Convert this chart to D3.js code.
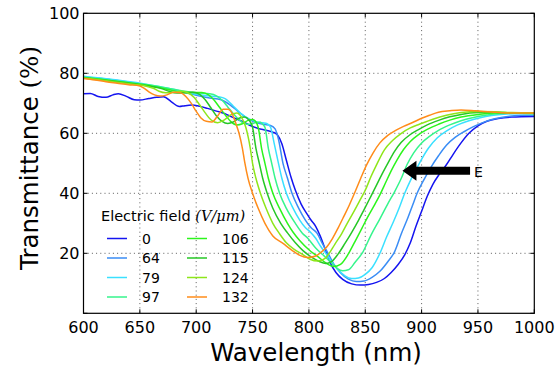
<!DOCTYPE html>
<html><head><meta charset="utf-8">
<script src="https://cdn.jsdelivr.net/npm/d3@7"></script>
<style>body{margin:0;background:#fff}svg{display:block}</style>
</head><body><svg id="c" width="560" height="366"></svg>
<script>
const fields = ["0","64","79","97","106","115","124","132"];
const colors = ["#1414f0","#3a8df5","#3ae0ff","#36f58c","#2cf51c","#26c726","#8ee61a","#ff8c1a"];
const xTicks = [600,650,700,750,800,850,900,950,1000];
const yTicks = [20,40,60,80,100];

const s0 = [[600,73.2],[606,73.3],[613,72.3],[620,72],[626,72.8],[631,73.2],[638,72.3],[645,71.2],[650,71.1],[658,71.6],[665,72],[671,72.2],[678,70.5],[685,68.9],[690,69.2],[696,69.4],[703,69],[710,68.3],[718,67.4],[725,66.6],[732,65.4],[740,64.1],[748,62.6],[755,61.6],[762,61],[768,60.4],[772,59.5],[776,56.5],[780,51],[784,45.5],[788,41],[793,36.5],[798,33.3],[802,31],[806,29],[810,25.8],[815,20.8],[819,16.8],[824,13.6],[830,11.3],[838,9.8],[846,9.4],[853,9.6],[860,10.3],[867,11.6],[873,13.6],[879,16.2],[885,19.5],[890,23.5],[895,29],[900,34],[905,39],[910,43],[916,46.5],[922,49.5],[928,53],[935,56.8],[942,60],[950,62.5],[958,64],[968,64.9],[980,65.4],[1000,65.6]];
const s64 = [[600,78.8],[615,78.3],[630,77.6],[645,76.8],[660,75.8],[675,74.8],[690,73.6],[700,72.7],[712,71.8],[722,71.2],[730,69.5],[738,67],[746,64.8],[753,63.6],[760,63],[766,62.6],[770,61.5],[773,58],[777,50],[781,45],[785,40],[791,35],[797,31],[802,28.5],[807,26.8],[812,23.2],[817,20],[822,16.5],[828,13.5],[835,11.4],[842,10.6],[849,10.8],[856,12],[863,14],[870,17.2],[876,20.5],[882,26.5],[888,32],[892,36],[896,40],[902,44.5],[908,48.5],[915,52.5],[922,56],[930,58.7],[938,60.6],[946,62.2],[956,63.8],[966,64.9],[978,65.7],[990,66],[1000,66]];
const s79 = [[600,79],[615,78.4],[630,77.8],[645,77],[660,76],[675,75],[690,73.8],[700,73],[710,72.5],[720,72.2],[726,71.5],[733,69],[740,66.5],[747,64.8],[753,63.9],[759,63.5],[763,63.2],[766,62],[769,57],[773,50],[776,45],[780,40],[786,35],[792,31],[797,28.5],[801,27.2],[806,25],[811,22],[815,20],[820,17.2],[826,14.5],[832,12.5],[838,11.6],[844,11.8],[850,13],[856,15.2],[863,20],[869,25.5],[875,30.5],[880,35],[885,40],[891,45],[898,50],[906,55],[914,58.5],[923,61],[932,62.8],[942,64.2],[952,65.2],[962,65.9],[975,66.4],[990,66.6],[1000,66.6]];
const s97 = [[600,78.7],[615,78.1],[630,77.4],[645,76.7],[660,76],[675,75],[690,74],[700,73.5],[712,73.2],[718,72.5],[723,71],[728,68.8],[733,66.5],[738,64.5],[743,63.2],[748,63],[753,63.6],[757,63.7],[759,63],[761,62],[764,55],[767,50],[770,45],[774,40],[780,35],[788,30],[794,26.8],[799,25],[806,21.8],[813,19.3],[820,16.8],[825,15],[830,14.2],[835,14.5],[841,17],[848,20.5],[855,26],[863,31.5],[870,36.5],[876,40.5],[882,45],[887,49.5],[893,53.5],[900,56.8],[907,59],[915,61],[925,62.8],[935,64.2],[945,65.2],[958,66.1],[970,66.6],[985,66.7],[1000,66.6]];
const s106 = [[600,78.6],[615,78],[630,77.3],[645,76.6],[660,75.8],[675,74.6],[685,73.8],[695,73.6],[705,73.6],[711,72.8],[716,71],[721,68.5],[726,66],[731,63.8],[736,62.8],[741,63.2],[746,64.3],[750,64.6],[753,63.8],[755,62],[758,55],[761,50],[764,45],[768,40],[774,35],[781,30],[786,27],[792,24.2],[800,21.2],[808,18.9],[815,16.8],[822,15.6],[828,16.3],[835,19.8],[841,24],[847,28.3],[852,32],[858,36],[863,39.5],[868,43.5],[873,47.5],[878,51],[884,54.6],[890,57.3],[897,59.5],[905,61.3],[915,63],[925,64.4],[935,65.4],[950,66.3],[965,66.8],[980,66.8],[1000,66.6]];
const s115 = [[600,78.5],[615,77.8],[630,77.2],[645,76.4],[660,75.6],[670,74.8],[676,74],[683,73.4],[690,73.5],[697,73.7],[703,73],[708,71.2],[713,68.5],[718,65.8],[723,64],[728,63.3],[733,63.8],[738,65],[743,65.4],[747,64.3],[750,62],[753,55],[756,50],[759,45],[763,40],[768,35],[775,30],[781,26.8],[788,23.5],[795,20.8],[802,18.8],[809,17.3],[815,16.6],[820,17.2],[826,19.8],[832,23.3],[838,27],[844,31],[850,35.3],[855,39],[860,42.7],[865,46.5],[870,50],[876,54],[882,57],[890,59.6],[898,61.4],[905,62.8],[915,64.3],[925,65.5],[935,66.3],[950,66.9],[965,67],[980,66.8],[1000,66.7]];
const s124 = [[600,78.4],[615,77.8],[630,77],[645,76.3],[655,75.8],[662,75],[667,74],[673,73.5],[679,73.6],[686,74],[692,73.6],[698,72],[703,69.5],[708,66.8],[713,64.5],[719,63.5],[725,64.5],[731,66.2],[736,66.8],[740,65.5],[744,62],[748,55],[750,50],[753,45],[757,40],[762,35],[768,30],[774,26.5],[780,23.5],[787,21.3],[795,19.5],[801,18],[808,17.4],[814,18.2],[818,20],[823,23],[829,26.5],[834,30],[840,34],[845,37.5],[850,41],[855,45.5],[860,49.5],[867,54.5],[874,57.5],[882,60],[890,61.8],[898,63],[910,64.7],[922,66],[935,66.9],[950,67.3],[965,67.2],[980,66.9],[1000,66.8]];
const s132 = [[600,78.3],[610,77.8],[620,77.2],[630,76.7],[640,76.2],[650,75.8],[654,75],[658,73.8],[663,72.8],[668,72.4],[674,72.8],[680,73.7],[686,73.5],[691,72.2],[696,69.8],[700,67.3],[704,65.2],[709,64],[714,63.8],[719,65.8],[724,68],[728,68],[732,66.5],[735,63.5],[738,60],[741,55],[743,50.5],[746,45],[750,40],[755,35],[761,30],[768,25.8],[777,23.3],[785,21],[792,19.3],[799,18.6],[806,19.1],[811,20.4],[816,22.2],[821,25],[826,28.5],[831,32.3],[836,36.2],[841,40.5],[846,45],[851,49.3],[857,53.5],[863,56.8],[870,59.3],[877,61],[884,62.3],[892,63.6],[900,65],[907,66],[915,67],[925,67.5],[935,67.8],[948,67.5],[962,67.1],[975,66.8],[990,66.8],[1000,66.8]];
const series = [s0,s64,s79,s97,s106,s115,s124,s132];

const arrowTip = [883,47.5], arrowTail = [943,47.5];

const svg = d3.select("#c");
const L=83.5, T=13.3, W=450.8, H=300;
const x = d3.scaleLinear().domain([600,1000]).range([L,L+W]);
const y = d3.scaleLinear().domain([0,100]).range([T+H,T]);
const font = "DejaVu Sans, sans-serif";

// grid
const g = svg.append("g");
g.selectAll(".gx").data(xTicks.slice(1,-1)).join("line")
 .attr("x1",d=>x(d)).attr("x2",d=>x(d)).attr("y1",T).attr("y2",T+H)
 .attr("stroke","#333").attr("stroke-width",0.8).attr("stroke-dasharray","1,3.2");
g.selectAll(".gy").data(yTicks.slice(0,-1)).join("line")
 .attr("y1",d=>y(d)).attr("y2",d=>y(d)).attr("x1",L).attr("x2",L+W)
 .attr("stroke","#333").attr("stroke-width",0.8).attr("stroke-dasharray","1,3.2");

// lines
svg.append("clipPath").attr("id","cp").append("rect").attr("x",L).attr("y",T).attr("width",W).attr("height",H);
const line = d3.line().x(d=>x(d[0])).y(d=>y(d[1])).curve(d3.curveMonotoneX);
svg.append("g").attr("clip-path","url(#cp)").selectAll("path").data(series).join("path")
 .attr("d",line).attr("fill","none").attr("stroke",(d,i)=>colors[i]).attr("stroke-width",1.5);

// frame & ticks
svg.append("rect").attr("x",L).attr("y",T).attr("width",W).attr("height",H).attr("fill","none").attr("stroke","#000").attr("stroke-width",1.2);
const tk = svg.append("g").attr("stroke","#000").attr("stroke-width",1);
xTicks.forEach(v=>{tk.append("line").attr("x1",x(v)).attr("x2",x(v)).attr("y1",T+H).attr("y2",T+H-4);
 tk.append("line").attr("x1",x(v)).attr("x2",x(v)).attr("y1",T).attr("y2",T+4);});
[0].concat(yTicks).forEach(v=>{tk.append("line").attr("y1",y(v)).attr("y2",y(v)).attr("x1",L).attr("x2",L+4);
 tk.append("line").attr("y1",y(v)).attr("y2",y(v)).attr("x1",L+W).attr("x2",L+W-4);});

svg.append("g").selectAll("text").data(xTicks).join("text")
 .attr("x",d=>x(d)).attr("y",T+H+20).attr("text-anchor","middle")
 .attr("font-family",font).attr("font-size",16).text(d=>d);
svg.append("g").selectAll("text").data(yTicks).join("text")
 .attr("x",L-4).attr("y",d=>y(d)+6).attr("text-anchor","end")
 .attr("font-family",font).attr("font-size",16).text(d=>d);

svg.append("text").attr("x",316).attr("y",361).attr("text-anchor","middle")
 .attr("font-family",font).attr("font-size",24.5).text("Wavelength (nm)");
const yl = svg.append("text").attr("transform","translate(38,158) rotate(-90)").attr("text-anchor","middle")
 .attr("font-family",font).attr("font-size",24.5);
yl.append("tspan").text("Transmittance ");
yl.append("tspan").attr("font-family","DejaVu Serif, serif").text("(%)");

// legend
const lg = svg.append("g");
const lt = lg.append("text").attr("x",101).attr("y",221).attr("font-family",font).attr("font-size",14.5);
lt.append("tspan").text("Electric field ");
lt.append("tspan").attr("font-family","DejaVu Serif, serif").attr("font-style","italic").text("(V/μm)");
fields.forEach((f,i)=>{
  const col = Math.floor(i/4), row = i%4;
  const lx = 107 + col*80, ly = 238.5 + row*19.5;
  lg.append("line").attr("x1",lx).attr("x2",lx+20).attr("y1",ly).attr("y2",ly).attr("stroke",colors[i]).attr("stroke-width",1.5);
  lg.append("text").attr("x",lx+35+(col?0:0)).attr("y",ly+5).attr("font-family",font).attr("font-size",14).text(f);
});

// arrow
const ax0 = x(arrowTail[0]), ax1 = x(arrowTip[0]), ay = y(arrowTip[1]);
svg.append("path").attr("d",`M${ax1},${ay} L${ax1+14},${ay-10} L${ax1+14},${ay-4} L${ax0},${ay-4} L${ax0},${ay+4} L${ax1+14},${ay+4} L${ax1+14},${ay+10} Z`).attr("fill","#000");
svg.append("text").attr("x",ax0+4).attr("y",ay+6).attr("font-family",font).attr("font-size",14).text("E");
</script></body></html>
